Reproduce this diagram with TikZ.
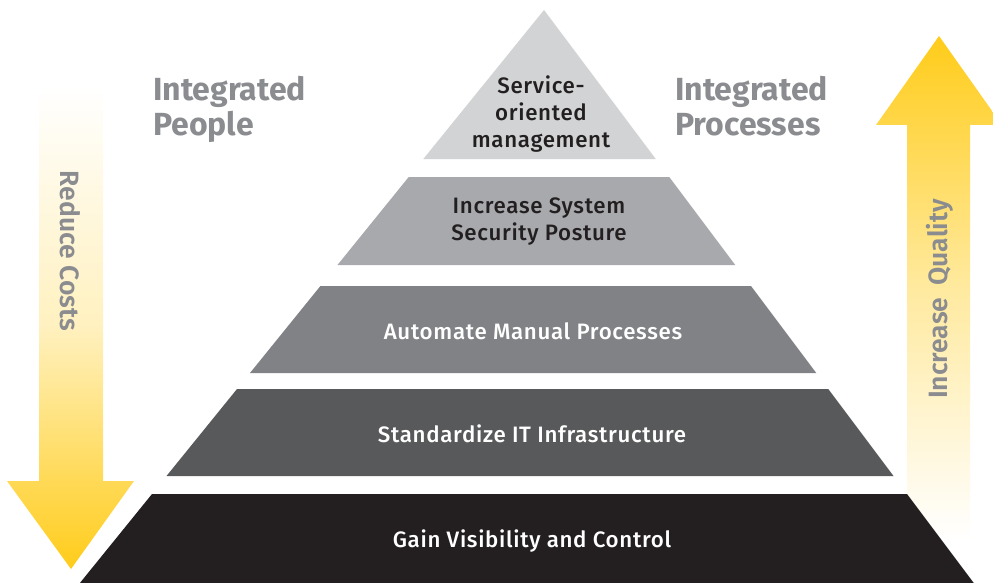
\documentclass[tikz,border=0pt]{standalone}
\usepackage{fontspec}
\setmainfont{Fira Sans}
\newfontfamily\fsmed{Fira Sans}[UprightFont={* Medium}, BoldFont={* SemiBold}]
\newfontfamily\fsmedsp{Fira Sans}[UprightFont={* Medium}, LetterSpace=3]
\definecolor{lay1}{HTML}{D1D3D4}
\definecolor{lay2}{HTML}{A7A9AC}
\definecolor{lay3}{HTML}{808285}
\definecolor{lay4}{HTML}{58595B}
\definecolor{lay5}{HTML}{231F20}
\definecolor{headgray}{HTML}{8A8C8F}
\definecolor{arrowyel}{HTML}{FFCC1A}
\begin{document}
\begin{tikzpicture}[x=1pt,y=-1pt,
  laytext/.style={font=\fsmedsp\fontsize{22.3}{27}\selectfont, align=center, inner sep=0pt},
  darktext/.style={laytext, text=lay5},
  lighttext/.style={laytext, text=white},
  headtext/.style={font=\bfseries\fontsize{32}{35}\selectfont, text=headgray, align=left, inner sep=0pt, anchor=north west},
  sidetext/.style={font=\fsmed\bfseries\fontsize{26.5}{28}\selectfont, text=headgray, inner sep=0pt}
]
\useasboundingbox (0,0) rectangle (993,583);
% arrows
\shade[top color=white, bottom color=arrowyel, middle color=arrowyel!28]
  (39,85) -- (103,85) -- (103,481) -- (134,481) -- (71,569) -- (7,481) -- (39,481) -- cycle;
\shade[top color=arrowyel, bottom color=white, middle color=arrowyel!42]
  (939,36) -- (1002,125) -- (970,125) -- (970,540) -- (907,540) -- (907,125) -- (876,125) -- cycle;
% pyramid
\fill[lay1] (544,10) -- (655.75,159) -- (423.3,159) -- cycle;
\fill[lay2] (408.7,177) -- (669.25,177) -- (735.25,265) -- (337.45,265) -- cycle;
\fill[lay3] (320.4,286) -- (751,286) -- (816.25,373) -- (250,373) -- cycle;
\fill[lay4] (237,389) -- (828.25,389) -- (893.5,476) -- (166.5,476) -- cycle;
\fill[lay5] (152,494) -- (907,494) -- (973.75,583) -- (79.9,583) -- cycle;
% texts
\node[darktext] (t1) at (541,114) {Service-\\oriented\\management};
\node[darktext] (t2) at (539,222) {Increase System\\Security Posture};
\node[lighttext] (t3) at (533,331) {Automate Manual Processes};
\node[lighttext] (t4) at (532,434) {Standardize IT Infrastructure};
\node[lighttext] (t5) at (532,541) {Gain Visibility and Control};
\node[headtext] (hp) at (153,76) {Integrated\\People};
\node[headtext] (hq) at (675,76) {Integrated\\Processes};
\node[sidetext, rotate=-90] (rc) at (70,251) {Reduce Costs};
\node[sidetext, rotate=90] (iq) at (940,299) {Increase\hspace{0.45em}Quality};
\end{tikzpicture}
\end{document}
